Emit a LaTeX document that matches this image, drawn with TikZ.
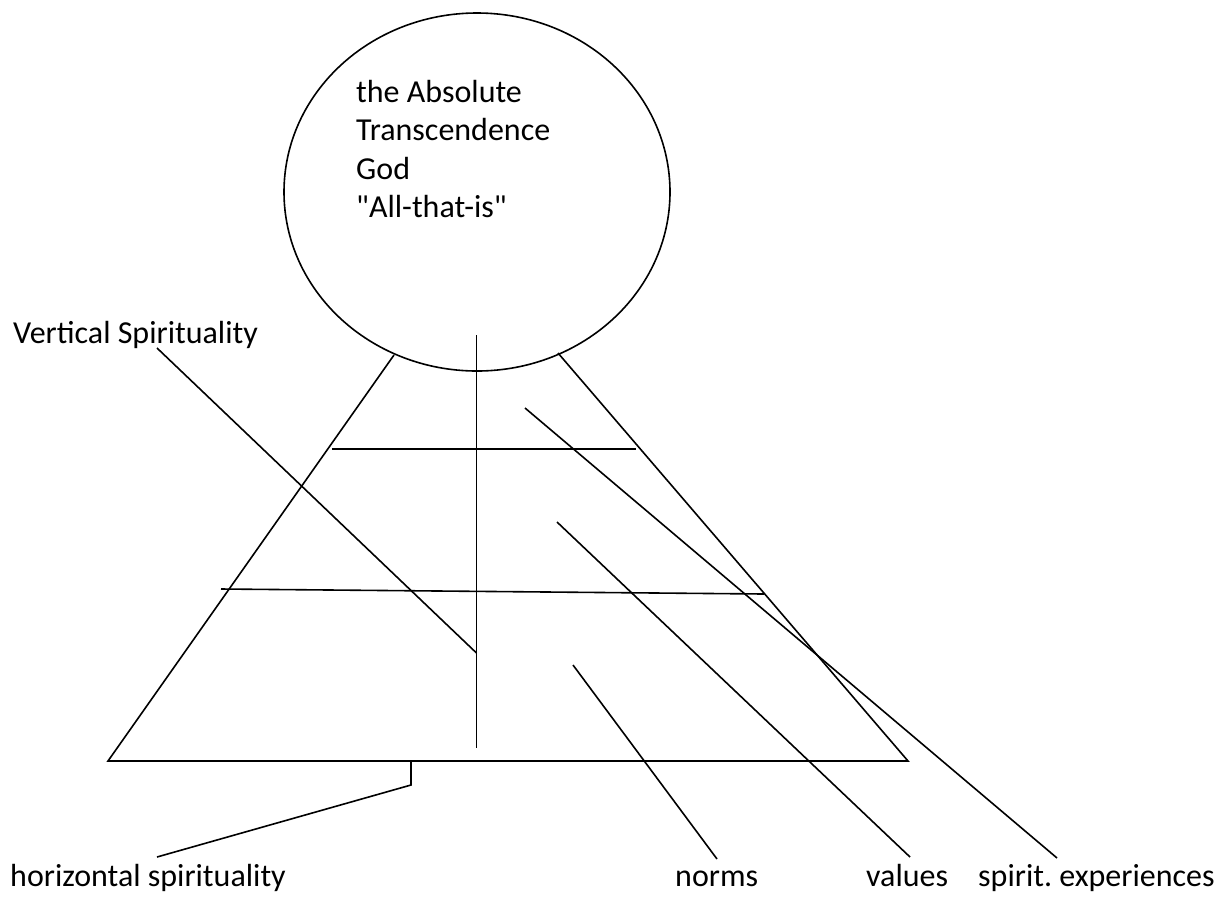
\documentclass[tikz,border=0pt]{standalone}
\usepackage{fontspec}
\setmainfont{Carlito}
\usetikzlibrary{shapes.geometric}
\frenchspacing
\begin{document}
\begin{tikzpicture}[x=1pt,y=-1pt,
  ln/.style={draw=black,line width=1.6pt},
  lbl/.style={anchor=base west,inner sep=0pt,font=\fontsize{32}{38.5}\selectfont}]
\useasboundingbox (0,0) rectangle (1218,898);
% circle
\node[ln,ellipse,minimum width=386pt,minimum height=358pt,inner sep=0pt] (god) at (477,192) {};
\node[lbl,align=left,anchor=north west] (godtxt) at (356,80)
  {the Absolute\\Transcendence\\God\\\textquotedbl All-that-is\textquotedbl};
% triangle
\coordinate (bl) at (108,761);
\coordinate (br) at (908,761);
\coordinate (tl) at (394,355);
\coordinate (tr) at (558,353);
\draw[ln,line join=miter] (tl) -- (bl) -- (br) -- (tr);
% vertical axis
\coordinate (vt) at (476.5,335);
\coordinate (vb) at (476.5,748);
\draw[ln] (vt) -- (vb);
% levels
\coordinate (h1a) at (332,449);
\coordinate (h1b) at (636,449);
\draw[ln] (h1a) -- (h1b);
\coordinate (h2a) at (221,589);
\coordinate (h2b) at (764,594);
\draw[ln] (h2a) -- (h2b);
% labels
\node[lbl] (vs) at (13,343) {Vertical Spirituality};
\node[lbl] (hs) at (10,886) {horizontal spirituality};
\node[lbl] (no) at (675,886) {norms};
\node[lbl] (va) at (866,886) {values};
\node[lbl] (se) at (978,886) {spirit. experiences};
% pointer lines
\coordinate (vs1) at (157,348);
\coordinate (vs2) at (476.5,653);
\draw[ln] (vs1) -- (vs2);
\coordinate (se1) at (525,408);
\coordinate (se2) at (1057,858);
\draw[ln] (se1) -- (se2);
\coordinate (va1) at (557,522);
\coordinate (va2) at (910,857);
\draw[ln] (va1) -- (va2);
\coordinate (no1) at (573,665);
\coordinate (no2) at (717,859);
\draw[ln] (no1) -- (no2);
\coordinate (hs1) at (411,761);
\coordinate (hs2) at (411,785);
\coordinate (hs3) at (157,857);
\draw[ln] (hs1) -- (hs2) -- (hs3);
\end{tikzpicture}
\end{document}
